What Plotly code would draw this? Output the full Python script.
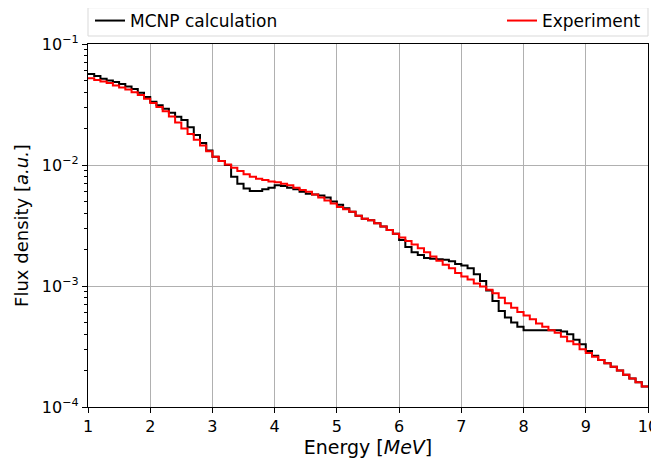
import plotly.graph_objects as go

# Bordes de los bins (MeV), paso 0.1
energia = [round(1.0 + 0.1 * i, 1) for i in range(91)]

# Densidad de flujo por bin (a.u.)
mcnp = [
    0.0565, 0.0545, 0.0515, 0.0500, 0.0485, 0.0467, 0.0445, 0.0425, 0.0395, 0.0365,
    0.0334, 0.0312, 0.0292, 0.0270, 0.0250, 0.0235, 0.0205, 0.0177, 0.0152, 0.0132,
    0.0117, 0.0108, 0.0100, 0.0080, 0.0070, 0.0064, 0.0061, 0.0061, 0.0063, 0.0065,
    0.0068, 0.0067, 0.0065, 0.0063, 0.0060, 0.0058, 0.0057, 0.0056, 0.0054, 0.0050,
    0.0047, 0.0044, 0.0041, 0.0038, 0.0036, 0.0035, 0.0033, 0.0031, 0.0029, 0.0027,
    0.0024, 0.0021, 0.0019, 0.0018, 0.0017, 0.00168, 0.00166, 0.00165, 0.00160, 0.00152,
    0.00148, 0.00140, 0.00125, 0.00110, 0.00092, 0.00075, 0.00062, 0.00055, 0.00050, 0.00046,
    0.00043, 0.00043, 0.00043, 0.00043, 0.00043, 0.00043, 0.00042, 0.00040, 0.00036, 0.00033,
    0.00029, 0.000265, 0.000245, 0.000230, 0.000215, 0.000200, 0.000185, 0.000172, 0.000160, 0.000148,
]

experimento = [
    0.0520, 0.0505, 0.0490, 0.0475, 0.0455, 0.0438, 0.0420, 0.0400, 0.0378, 0.0352,
    0.0325, 0.0302, 0.0278, 0.0252, 0.0225, 0.0200, 0.0180, 0.0162, 0.0145, 0.0130,
    0.0117, 0.0108, 0.0101, 0.0095, 0.0089, 0.0084, 0.0080, 0.0077, 0.0075, 0.0073,
    0.0072, 0.0070, 0.0068, 0.0065, 0.0062, 0.0060, 0.0057, 0.0054, 0.0051, 0.0048,
    0.0045, 0.0043, 0.0041, 0.0038, 0.0036, 0.0035, 0.0033, 0.0031, 0.0029, 0.0027,
    0.00252, 0.00235, 0.00220, 0.00205, 0.00190, 0.00175, 0.00162, 0.00150, 0.00140, 0.00128,
    0.00120, 0.00113, 0.00105, 0.00099, 0.00093, 0.00087, 0.00080, 0.00072, 0.00066, 0.00061,
    0.00057, 0.00053, 0.00049, 0.00046, 0.00043, 0.00041, 0.00038, 0.00035, 0.00033, 0.00030,
    0.00028, 0.00026, 0.000245, 0.000230, 0.000215, 0.000200, 0.000185, 0.000172, 0.000160, 0.000148,
]

x_ticks = [1, 2, 3, 4, 5, 6, 7, 8, 9, 10]
y_ticks = [1e-4, 1e-3, 1e-2, 1e-1]
y_text = ["10<sup>−4</sup>", "10<sup>−3</sup>", "10<sup>−2</sup>", "10<sup>−1</sup>"]

FUENTE = "DejaVu Sans"
# la página tiene ~8 px de margen en el body: la figura se achica para compensar
ANCHO, ALTO = 651, 455

fig = go.Figure()

fig.add_trace(go.Scatter(
    name="MCNP calculation",
    x=energia,
    y=mcnp + [mcnp[-1]],
    mode="lines",
    line=dict(color="black", width=2, shape="hv"),
    showlegend=True,
    legend="legend",
))

fig.add_trace(go.Scatter(
    name="Experiment",
    x=energia,
    y=experimento + [experimento[-1]],
    mode="lines",
    line=dict(color="red", width=2, shape="hv"),
    showlegend=True,
    legend="legend2",
))

# Caja de la leyenda (estilo matplotlib, ancho completo)
fig.add_shape(
    type="rect", xref="paper", yref="paper",
    x0=0.0, x1=1.0, y0=1.022, y1=1.1,
    line=dict(color="#d9d9d9", width=1),
    fillcolor="white",
    layer="below",
)

eje = dict(
    showline=True, linecolor="black", linewidth=1.2, mirror=True,
    ticks="outside", ticklen=5, tickcolor="black",
    showgrid=True, gridcolor="#b0b0b0", gridwidth=1,
    zeroline=False, automargin=False,
    tickfont=dict(family=FUENTE, size=16, color="black"),
)

fig.update_layout(
    width=ANCHO, height=ALTO,
    margin=dict(l=80, r=11, t=36, b=56),
    showlegend=True,
    plot_bgcolor="white",
    paper_bgcolor="white",
    font=dict(family=FUENTE, size=16, color="black"),
    xaxis=dict(
        eje, range=[1, 10], tickvals=x_ticks,
        title=dict(text="Energy [<i>MeV</i>]", font=dict(size=19), standoff=4),
    ),
    yaxis=dict(
        eje, type="log", range=[-4, -1], tickvals=y_ticks, ticktext=y_text,
        minor=dict(ticks="outside", ticklen=3, tickcolor="black", showgrid=False,
                   tickvals=[k * 10.0 ** e for e in (-4, -3, -2) for k in range(2, 10)]),
        title=dict(text="Flux density [<i>a.u.</i>]", font=dict(size=18), standoff=8),
    ),
    legend=dict(
        orientation="h", xref="container", yref="container",
        x=82 / ANCHO, xanchor="left", y=1 - 13 / ALTO, yanchor="middle",
        bgcolor="rgba(0,0,0,0)", font=dict(size=17),
    ),
    legend2=dict(
        orientation="h", xref="container", yref="container",
        x=638 / ANCHO, xanchor="right", y=1 - 13 / ALTO, yanchor="middle",
        bgcolor="rgba(0,0,0,0)", font=dict(size=17),
    ),
)

fig.write_html("out.html")
